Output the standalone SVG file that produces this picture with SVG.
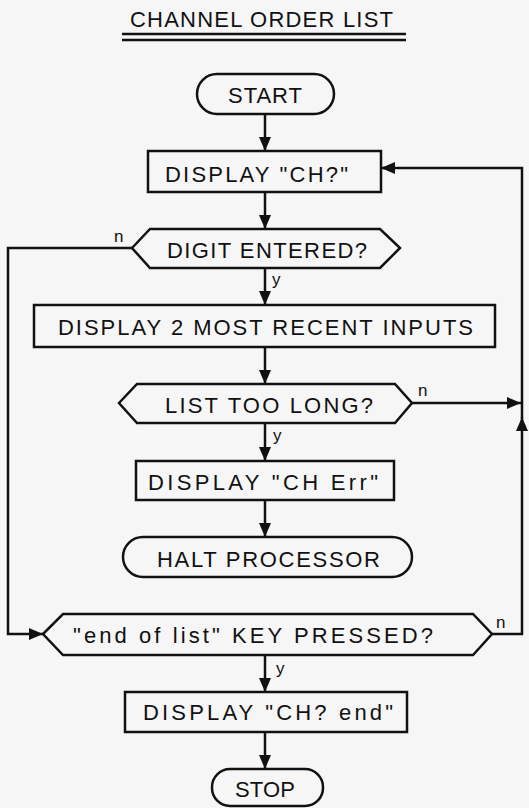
<svg xmlns="http://www.w3.org/2000/svg" width="529" height="808" viewBox="0 0 529 808">
<style>
.bg{fill:#f6f6f6}
.shape{fill:#f6f6f6;stroke:#111;stroke-width:2.5}
.t{font-family:"Liberation Sans",Arial,sans-serif;font-size:22px;fill:#111;text-anchor:middle}
.lbl{font-family:"Liberation Sans",Arial,sans-serif;font-size:17px;fill:#111}
.c{fill:none;stroke:#111;stroke-width:2.5}
.ul{stroke:#111;stroke-width:2.5}
</style>
<defs>
<marker id="ah" markerUnits="userSpaceOnUse" markerWidth="14" markerHeight="12" refX="14" refY="6" orient="auto">
<path d="M0,0 L14,6 L0,12 z" fill="#111"/>
</marker>
</defs>
<rect class="bg" x="0" y="0" width="529" height="808"/>
<g id="title">
<text class="t" x="261.5" y="27" textLength="263" lengthAdjust="spacing">CHANNEL ORDER LIST</text>
<line class="ul" x1="122" y1="34" x2="406" y2="34"/>
<line class="ul" x1="122" y1="40" x2="406" y2="40"/>
</g>
<g id="start">
<rect class="shape" x="197" y="74" width="137" height="40" rx="20"/>
<text class="t" x="265" y="103" textLength="74" lengthAdjust="spacing">START</text>
</g>
<g id="display-ch">
<rect class="shape" x="148" y="151" width="233" height="41"/>
<text class="t" x="256.5" y="182" textLength="183" lengthAdjust="spacing">DISPLAY "CH?"</text>
</g>
<g id="digit-entered">
<polygon class="shape" points="132,248 150,229 380,229 400,248 380,268 150,268"/>
<text class="t" x="267" y="258" textLength="200" lengthAdjust="spacing">DIGIT ENTERED?</text>
</g>
<g id="display-recent">
<rect class="shape" x="34" y="305" width="461" height="42"/>
<text class="t" x="265.5" y="335" textLength="415" lengthAdjust="spacing">DISPLAY 2 MOST RECENT INPUTS</text>
</g>
<g id="list-too-long">
<polygon class="shape" points="119,403 137,384 395,384 412,403 395,423 137,423"/>
<text class="t" x="269" y="413" textLength="208" lengthAdjust="spacing">LIST TOO LONG?</text>
</g>
<g id="display-err">
<rect class="shape" x="136" y="461" width="258" height="39"/>
<text class="t" x="263" y="490" textLength="230" lengthAdjust="spacing">DISPLAY "CH Err"</text>
</g>
<g id="halt">
<rect class="shape" x="123" y="537" width="289" height="40" rx="20"/>
<text class="t" x="268.5" y="567" textLength="223" lengthAdjust="spacing">HALT PROCESSOR</text>
</g>
<g id="end-key">
<polygon class="shape" points="43,634 63,614 473,614 492,634 473,655 63,655"/>
<text class="t" x="253" y="643" textLength="360" lengthAdjust="spacing">"end of list" KEY PRESSED?</text>
</g>
<g id="display-end">
<rect class="shape" x="125" y="692" width="282" height="40"/>
<text class="t" x="268" y="720" textLength="250" lengthAdjust="spacing">DISPLAY "CH? end"</text>
</g>
<g id="stop">
<rect class="shape" x="212" y="769" width="111" height="37" rx="18"/>
<text class="t" x="265" y="797" textLength="60" lengthAdjust="spacing">STOP</text>
</g>
<g id="connectors">
<path class="c" d="M265,114 V151" marker-end="url(#ah)"/>
<path class="c" d="M265,192 V229" marker-end="url(#ah)"/>
<path class="c" d="M265,268 V305" marker-end="url(#ah)"/>
<path class="c" d="M265,347 V384" marker-end="url(#ah)"/>
<path class="c" d="M265,423 V461" marker-end="url(#ah)"/>
<path class="c" d="M265,500 V537" marker-end="url(#ah)"/>
<path class="c" d="M265,655 V692" marker-end="url(#ah)"/>
<path class="c" d="M265,732 V769" marker-end="url(#ah)"/>
<path class="c" d="M132,248 H8 V634 H43" marker-end="url(#ah)"/>
<path class="c" d="M412,403 H521" marker-end="url(#ah)"/>
<path class="c" d="M492,634 H522 V417" marker-end="url(#ah)"/>
<path class="c" d="M522,418 V168 H381" marker-end="url(#ah)"/>
<text class="lbl" x="114" y="242">n</text>
<text class="lbl" x="272" y="285">y</text>
<text class="lbl" x="418" y="396">n</text>
<text class="lbl" x="273" y="441">y</text>
<text class="lbl" x="496" y="628">n</text>
<text class="lbl" x="276" y="674">y</text>
</g>
</svg>
